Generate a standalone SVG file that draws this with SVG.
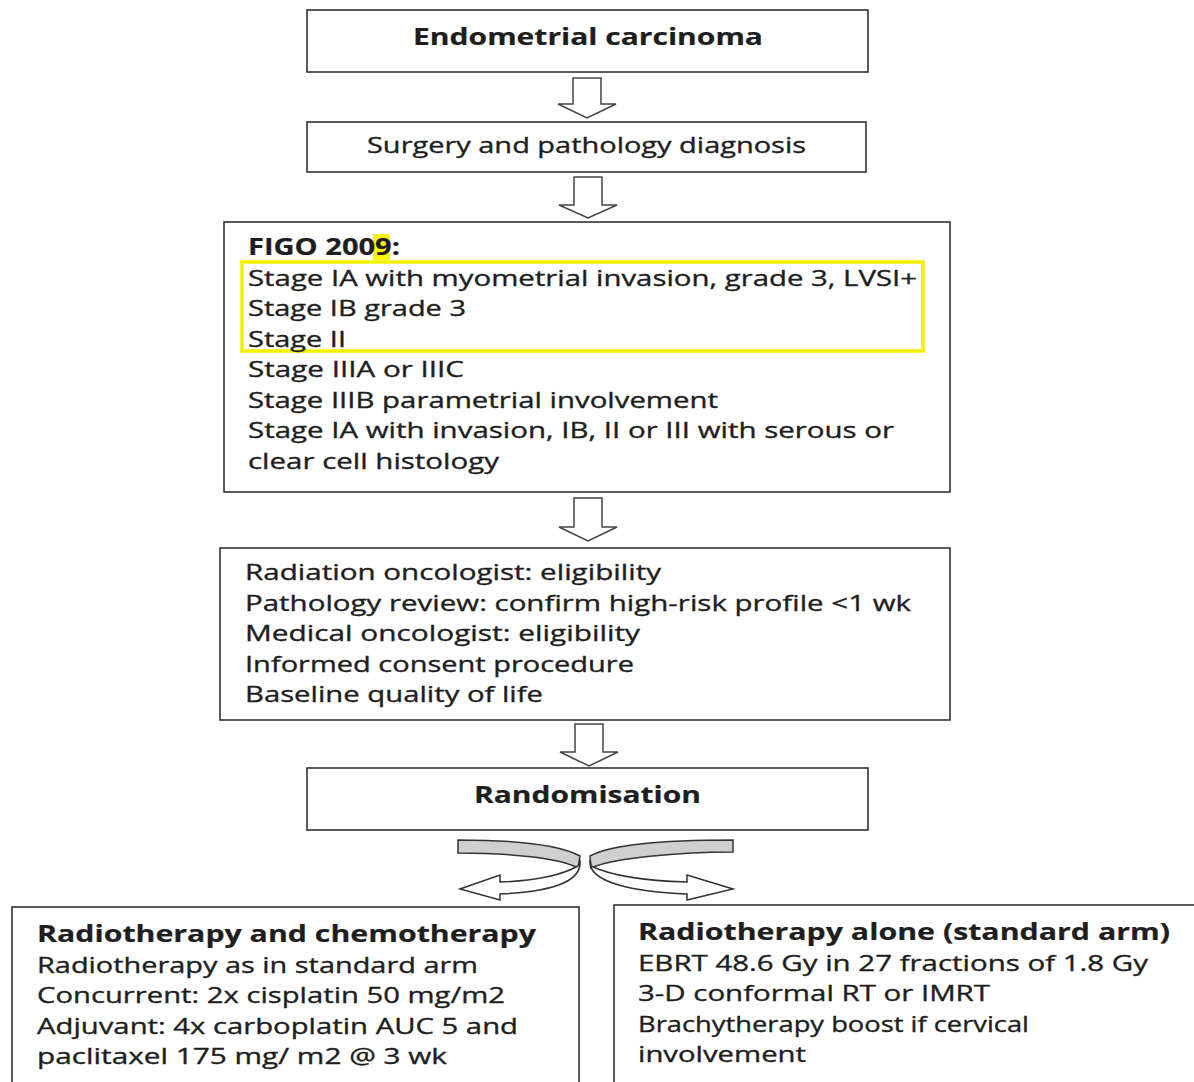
<svg xmlns="http://www.w3.org/2000/svg" width="1194" height="1082" viewBox="0 0 1194 1082">
<style>
.box{fill:#fff;stroke:#333;stroke-width:1.6}
.t{font-family:"Open Sans","Liberation Sans",sans-serif;font-size:22.5px;fill:#1e1e1e;stroke:#1e1e1e;stroke-width:0.35}
.b{font-weight:bold;stroke-width:0.2}
.arr{fill:#fff;stroke:#444;stroke-width:1.5;stroke-linejoin:miter}
.gray{fill:#cfcfcf;stroke:#333;stroke-width:1.5}
.ribbon{fill:#fff;stroke:#333;stroke-width:1.5}
</style>
<rect width="1194" height="1082" fill="#fff"/>
<g id="connectors">
  <path class="arr" d="M573,78 H601 V104 H616 L587,118 L558,104 H573 Z"/>
  <path class="arr" d="M574,177 H602 V205 H617 L588,218 L559,205 H574 Z"/>
  <path class="arr" d="M574,498 H602 V527 H617 L588,541 L559,527 H574 Z"/>
  <path class="arr" d="M575,724 H603 V752 H618 L589,766 L560,752 H575 Z"/>
  <g id="split-left">
    <path class="gray" d="M458,840 L458,853 C510,853 560,858 578,868 L580,856 C560,845 520,840 458,840 Z"/>
    <path class="ribbon" d="M578,866 C560,876 530,881 500,882 L500,875 L460,889 L500,900 L500,894 C545,892 583,884 580,860 Z"/>
  </g>
  <g id="split-right">
    <path class="gray" d="M733,840 L733,852 C680,852 612,858 591,868 L590,856 C610,845 660,840 733,840 Z"/>
    <path class="ribbon" d="M591,866 C612,876 650,881 687,882 L687,875 L733,889 L687,900 L687,894 C640,892 587,884 590,860 Z"/>
  </g>
</g>
<g id="n1">
  <rect class="box" x="307" y="10" width="561" height="62"/>
  <text class="t b" x="413" y="45" textLength="350" lengthAdjust="spacingAndGlyphs">Endometrial carcinoma</text>
</g>
<g id="n2">
  <rect class="box" x="307" y="122" width="559" height="50"/>
  <text class="t" x="367" y="153" textLength="439" lengthAdjust="spacingAndGlyphs">Surgery and pathology diagnosis</text>
</g>
<g id="n3">
  <rect class="box" x="224" y="222" width="726" height="270"/>
  <rect x="373" y="234" width="17" height="26" fill="#f7f700"/>
  <rect x="242" y="262" width="681" height="89" fill="none" stroke="#f2f200" stroke-width="3.5"/>
  <text class="t b" x="248" y="255" textLength="152" lengthAdjust="spacingAndGlyphs">FIGO 2009:</text>
  <text class="t" x="248" y="286" textLength="669" lengthAdjust="spacingAndGlyphs">Stage IA with myometrial invasion, grade 3, LVSI+</text>
  <text class="t" x="248" y="316" textLength="218" lengthAdjust="spacingAndGlyphs">Stage IB grade 3</text>
  <text class="t" x="248" y="347" textLength="98" lengthAdjust="spacingAndGlyphs">Stage II</text>
  <text class="t" x="248" y="377" textLength="216" lengthAdjust="spacingAndGlyphs">Stage IIIA or IIIC</text>
  <text class="t" x="248" y="408" textLength="470" lengthAdjust="spacingAndGlyphs">Stage IIIB parametrial involvement</text>
  <text class="t" x="248" y="438" textLength="646" lengthAdjust="spacingAndGlyphs">Stage IA with invasion, IB, II or III with serous or</text>
  <text class="t" x="248" y="469" textLength="251" lengthAdjust="spacingAndGlyphs">clear cell histology</text>
</g>
<g id="n4">
  <rect class="box" x="220" y="548" width="730" height="172"/>
  <text class="t" x="245" y="580" textLength="416" lengthAdjust="spacingAndGlyphs">Radiation oncologist: eligibility</text>
  <text class="t" x="245" y="611" textLength="666" lengthAdjust="spacingAndGlyphs">Pathology review: confirm high-risk profile &lt;1 wk</text>
  <text class="t" x="245" y="641" textLength="395" lengthAdjust="spacingAndGlyphs">Medical oncologist: eligibility</text>
  <text class="t" x="245" y="672" textLength="389" lengthAdjust="spacingAndGlyphs">Informed consent procedure</text>
  <text class="t" x="245" y="702" textLength="298" lengthAdjust="spacingAndGlyphs">Baseline quality of life</text>
</g>
<g id="n5">
  <rect class="box" x="307" y="768" width="561" height="62"/>
  <text class="t b" x="474" y="803" textLength="227" lengthAdjust="spacingAndGlyphs">Randomisation</text>
</g>
<g id="n6">
  <rect class="box" x="12" y="907" width="567" height="200"/>
  <text class="t b" x="37" y="942" textLength="499" lengthAdjust="spacingAndGlyphs">Radiotherapy and chemotherapy</text>
  <text class="t" x="37" y="973" textLength="441" lengthAdjust="spacingAndGlyphs">Radiotherapy as in standard arm</text>
  <text class="t" x="37" y="1003" textLength="468" lengthAdjust="spacingAndGlyphs">Concurrent: 2x cisplatin 50 mg/m2</text>
  <text class="t" x="37" y="1034" textLength="481" lengthAdjust="spacingAndGlyphs">Adjuvant: 4x carboplatin AUC 5 and</text>
  <text class="t" x="37" y="1064" textLength="410" lengthAdjust="spacingAndGlyphs">paclitaxel 175 mg/ m2 @ 3 wk</text>
</g>
<g id="n7">
  <rect class="box" x="614" y="905" width="600" height="200"/>
  <text class="t b" x="638" y="940" textLength="532" lengthAdjust="spacingAndGlyphs">Radiotherapy alone (standard arm)</text>
  <text class="t" x="638" y="971" textLength="510" lengthAdjust="spacingAndGlyphs">EBRT 48.6 Gy in 27 fractions of 1.8 Gy</text>
  <text class="t" x="638" y="1001" textLength="352" lengthAdjust="spacingAndGlyphs">3-D conformal RT or IMRT</text>
  <text class="t" x="638" y="1032" textLength="391" lengthAdjust="spacingAndGlyphs">Brachytherapy boost if cervical</text>
  <text class="t" x="638" y="1062" textLength="168" lengthAdjust="spacingAndGlyphs">involvement</text>
</g>
</svg>
